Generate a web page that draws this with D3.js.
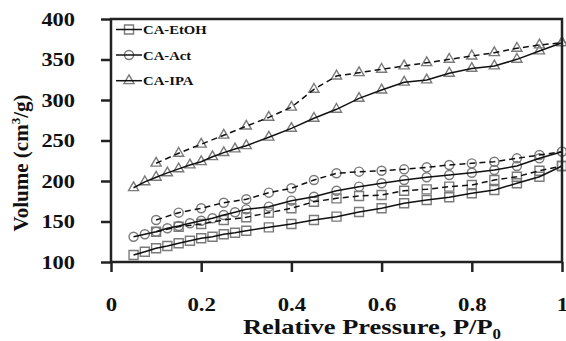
<!DOCTYPE html>
<html>
<head>
<meta charset="utf-8">
<script src="https://cdn.jsdelivr.net/npm/d3@7"></script>
<style>
  body { margin: 0; background: #fff; }
  svg text { font-family: "Liberation Serif", "Times New Roman", serif; font-weight: bold; fill: #111; }
</style>
</head>
<body>
<svg id="chart" width="566" height="341"></svg>
<script>
// adsorption branch (solid) and desorption branch (dashed) pressures
const pAds = [0.05, 0.075, 0.1, 0.125, 0.15, 0.175, 0.2, 0.225, 0.25, 0.275, 0.3, 0.35, 0.4, 0.45,
  0.5, 0.55, 0.6, 0.65, 0.7, 0.75, 0.8, 0.85, 0.9, 0.95, 1.0];
const pDes = [0.1, 0.15, 0.2, 0.25, 0.3, 0.35, 0.4, 0.45, 0.5, 0.55, 0.6, 0.65, 0.7, 0.75, 0.8,
  0.85, 0.9, 0.95, 1.0];

const etohAds = [108.6, 112.7, 116.9, 119.8, 123.1, 126.3, 129.3, 131.2, 134.2, 136.2, 138.6, 142.8,
  146.9, 151.9, 156, 161.7, 166.3, 172.5, 176.5, 179.9, 184.8, 188.9, 197.2, 205.3, 218.5];
const etohDes = [137.4, 143.6, 146.9, 151.9, 155.2, 160.9, 166.3, 174.4, 178.6, 181.5, 182.7, 188,
  189.7, 193, 195.1, 201.2, 205.3, 212.7, 218.5];

const actAds = [131.2, 134.2, 137.4, 141.6, 144.4, 147.8, 151, 154, 158, 161.4, 165, 168.3, 175.7,
  180.6, 188, 193, 197.2, 201.2, 204.6, 207.4, 210.2, 213.6, 218.5, 228, 236.2];
const actDes = [151.9, 160.9, 166.3, 173.2, 177.4, 185.6, 191, 201.2, 209.5, 211.5, 212.7, 214.4,
  216.9, 219.8, 221.8, 223.8, 228, 232.1, 236.2];

const ipaAds = [191.7, 199, 204.6, 210, 215, 219.8, 223.8, 230, 235, 239.5, 243.6, 254, 265, 277.4,
  288.5, 302, 312.3, 321.9, 324.7, 333, 339, 342, 350.2, 360.5, 370.7];
const ipaDes = [221.9, 234.2, 245.4, 256.5, 267.7, 278.6, 291.1, 313.2, 329.6, 333.7, 337.9, 342,
  346, 350.2, 354.3, 358.4, 363.8, 367.9, 370.7];

const names = ["CA-EtOH", "CA-Act", "CA-IPA"];
const xTicks = [0, 0.2, 0.4, 0.6, 0.8, 1];
const yTicks = [100, 150, 200, 250, 300, 350, 400];

const svg = d3.select("#chart");

const plotL = 111, plotR = 562, plotT = 19, plotB = 262;

const x = d3.scaleLinear().domain([0, 1]).range([plotL, plotR]);
const y = d3.scaleLinear().domain([100, 400]).range([plotB, plotT]);

// stretch text horizontally (the source figure is wider than tall)
function stretch(sel, k) {
  sel.each(function () {
    const w = this.getComputedTextLength();
    d3.select(this).attr("textLength", w * k).attr("lengthAdjust", "spacingAndGlyphs");
  });
}

const symbols = [d3.symbolSquare, d3.symbolCircle, d3.symbolTriangle];
const symSize = [81, 64, 44];

const series = [
  { name: names[0], p: pAds, v: etohAds, dash: null, s: 0 },
  { name: names[0], p: pDes, v: etohDes, dash: "6,4", s: 0 },
  { name: names[1], p: pAds, v: actAds, dash: null, s: 1 },
  { name: names[1], p: pDes, v: actDes, dash: "6,4", s: 1 },
  { name: names[2], p: pAds, v: ipaAds, dash: null, s: 2 },
  { name: names[2], p: pDes, v: ipaDes, dash: "6,4", s: 2 }
];

const line = d3.line().x(d => x(d[0])).y(d => y(d[1]));

// markers (open, grey) first, lines on top
series.forEach(sr => {
  const pts = sr.p.map((p, i) => [p, sr.v[i]]);
  svg.append("g").selectAll("path")
    .data(pts)
    .enter()
    .append("path")
    .attr("transform", d => "translate(" + x(d[0]) + "," + y(d[1]) + ")")
    .attr("d", d3.symbol().type(symbols[sr.s]).size(symSize[sr.s]))
    .attr("fill", "none")
    .attr("stroke", "#7a7a7a")
    .attr("stroke-width", 1.4);
});
series.forEach(sr => {
  const pts = sr.p.map((p, i) => [p, sr.v[i]]);
  svg.append("path")
    .datum(pts)
    .attr("d", line)
    .attr("fill", "none")
    .attr("stroke", "#111")
    .attr("stroke-width", 1.5)
    .attr("stroke-dasharray", sr.dash);
});

// axes
const xAxis = svg.append("g")
  .attr("transform", "translate(0," + plotB + ")")
  .call(d3.axisBottom(x).tickValues(xTicks).tickFormat(d => d === 0 || d === 1 ? d3.format("d")(d) : d3.format(".1f")(d))
    .tickSize(10).tickPadding(26));
const yAxis = svg.append("g")
  .attr("transform", "translate(" + plotL + ",0)")
  .call(d3.axisLeft(y).tickValues(yTicks).tickSize(10).tickPadding(26));

[xAxis, yAxis].forEach(g => {
  g.select(".domain").remove();
  g.selectAll(".tick line").attr("stroke", "#222").attr("stroke-width", 2.5);
  g.selectAll(".tick text").attr("font-size", 19).attr("fill", "#111");
});
stretch(xAxis.selectAll(".tick text"), 1.2);
stretch(yAxis.selectAll(".tick text"), 1.18);

// frame
svg.append("rect")
  .attr("x", plotL).attr("y", plotT)
  .attr("width", plotR - plotL).attr("height", plotB - plotT)
  .attr("fill", "none").attr("stroke", "#222").attr("stroke-width", 2.5);

// axis titles
const xt = svg.append("text")
  .attr("x", 243).attr("y", 334)
  .attr("font-size", 22);
xt.append("tspan").text("Relative Pressure, P/P");
xt.append("tspan").attr("font-size", 14).attr("dy", 5).text("0");
xt.attr("textLength", 258).attr("lengthAdjust", "spacingAndGlyphs");

const yt = svg.append("text")
  .attr("transform", "translate(28,163) rotate(-90)")
  .attr("text-anchor", "middle")
  .attr("font-size", 21);
yt.append("tspan").text("Volume (cm");
yt.append("tspan").attr("font-size", 13).attr("dy", -8).text("3");
yt.append("tspan").attr("dy", 8).text("/g)");

// legend
const legY = [29.5, 55, 80.7];
const leg = svg.append("g").selectAll("g")
  .data(names)
  .enter()
  .append("g")
  .attr("transform", (d, i) => "translate(0," + legY[i] + ")");
leg.append("path")
  .attr("transform", "translate(129,0)")
  .attr("d", (d, i) => d3.symbol().type(symbols[i]).size(symSize[i])())
  .attr("fill", "none").attr("stroke", "#7a7a7a").attr("stroke-width", 1.4);
leg.append("line")
  .attr("x1", 116).attr("x2", 142)
  .attr("stroke", "#111").attr("stroke-width", 1.5);
const legText = leg.append("text")
  .attr("x", 143).attr("y", 4.6)
  .attr("font-size", 13.5)
  .text(d => d);
stretch(legText, 1.09);
</script>
</body>
</html>
